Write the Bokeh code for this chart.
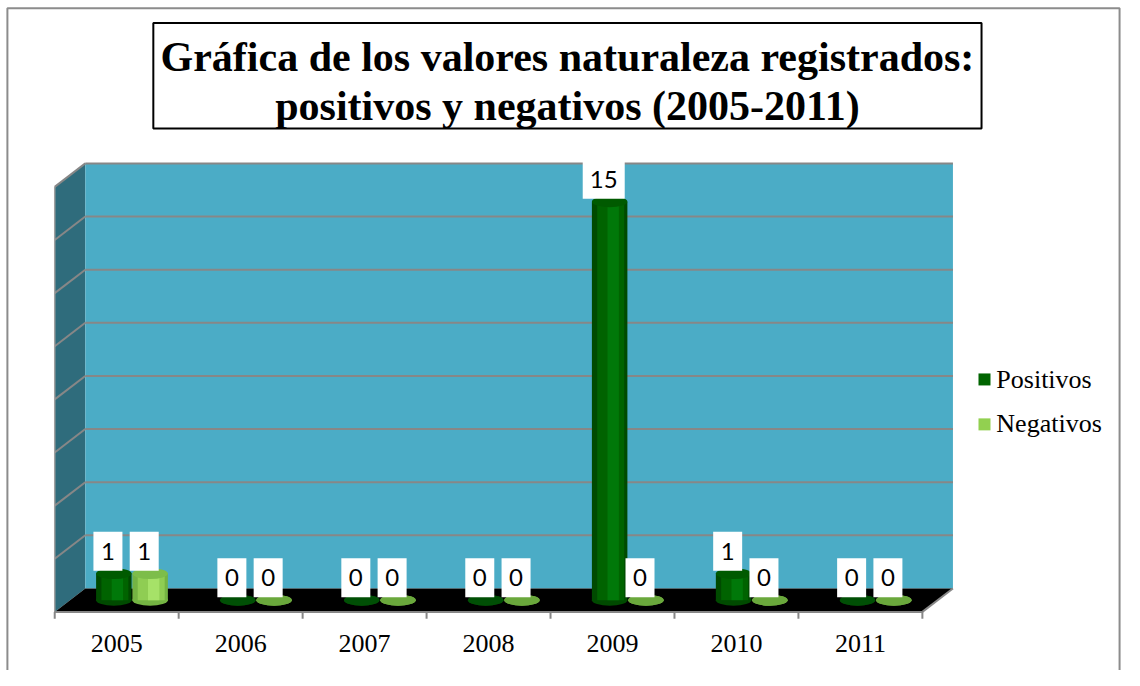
import numpy as np
from bokeh.plotting import figure
from bokeh.models import ColumnDataSource
from bokeh.core.properties import value
from bokeh.embed import file_html
from bokeh.resources import INLINE

# ---------------- data ----------------
years = ["2005", "2006", "2007", "2008", "2009", "2010", "2011"]
positivos = [1, 0, 0, 0, 15, 1, 0]
negativos = [1, 0, 0, 0, 0, 0, 0]
series_names = ["Positivos", "Negativos"]
title_lines = ["Gráfica de los valores naturaleza registrados:",
               "positivos y negativos (2005-2011)"]
y_max = 16
y_step = 2

# ---------------- geometry helpers (reference pixel -> data) ----------------
W, H = 1124, 670
REF_W, REF_H = 1140, 686
X0_IMG, Y0_IMG = 55.0, 626.0     # reference position of data (0, 0)
XPX, YPX = 125.714, 27.2         # reference pixels per data unit


def dx(ix):
    return (ix - X0_IMG) / XPX


def dy(iy):
    return (Y0_IMG - iy) / YPX


p = figure(width=W, height=H,
           x_range=(dx(0), dx(REF_W)), y_range=(dy(REF_H), dy(0)),
           x_axis_type=None, y_axis_type=None, min_border=0,
           toolbar_location=None, output_backend="svg")
p.outline_line_color = None
p.background_fill_color = "white"
p.border_fill_color = "white"
p.title.visible = False

n = len(years)
DX, DY = 31 / XPX, 24 / YPX     # 3-D depth vector
GRID = "#878787"

# walls
p.patch([0, DX, DX, 0], [0, DY, y_max + DY, y_max], fill_color="#2f6c7c", line_color=None)
p.patch([DX, n + DX, n + DX, DX], [DY, DY, y_max + DY, y_max + DY], fill_color="#4bacc6", line_color=None)
levels = np.arange(y_step, y_max + 1, y_step)
p.segment(x0=DX, y0=levels + DY, x1=n + DX, y1=levels + DY, line_color=GRID, line_width=2)
p.segment(x0=0, y0=levels, x1=DX, y1=levels + DY, line_color=GRID, line_width=2)
p.segment(x0=[0], y0=[0], x1=[0], y1=[y_max], line_color="#a0a0a0", line_width=1.5)
# floor
p.patch([0, n, n + DX, DX], [0, 0, DY, DY], fill_color="black", line_color=None)
p.segment(x0=[n], y0=[0], x1=[n + DX], y1=[DY], line_color=GRID, line_width=2)
# category axis line + ticks
p.segment(x0=[0], y0=[0], x1=[n], y1=[0], line_color=GRID, line_width=2)
bounds = np.arange(n + 1)
p.segment(x0=bounds, y0=0, x1=bounds, y1=dy(633), line_color=GRID, line_width=2)

# cylinders
cx = np.arange(n) + 0.5
off = 18.4 / XPX
bw = 36 / XPX
base = DY / 2


def cylinder(xs, vals, edge, mid, hi, top, zero):
    vals = np.array(vals, dtype=float)
    tops = base + vals
    src = ColumnDataSource(dict(x=xs, top=tops,
                                c=[zero if v == 0 else top for v in vals]))
    p.ellipse(x="x", y=base, width=bw, height=11, height_units="screen",
              fill_color=edge, line_color=None, source=src)
    p.vbar(x="x", width=bw, bottom=base, top="top", fill_color=edge, line_color=None, source=src)
    p.vbar(x=xs + 0.03 * bw, width=0.76 * bw, bottom=base, top=tops, fill_color=mid, line_color=None)
    p.vbar(x=xs + 0.1 * bw, width=0.32 * bw, bottom=base, top=tops, fill_color=hi, line_color=None)
    p.ellipse(x="x", y="top", width=bw, height=11, height_units="screen",
              fill_color="c", line_color=None, source=src)
    return tops


pos_x = cx - off + DX / 2
neg_x = cx + off + DX / 2
pos_tops = cylinder(pos_x, positivos, "#004a00", "#006300", "#007809", "#005a00", "#004f05")
neg_tops = cylinder(neg_x, negativos, "#74b443", "#8fcd53", "#a6e268", "#7dbd4a", "#6aa83c")

# data labels
for xs, vals, tops in ((pos_x, positivos, pos_tops), (neg_x, negativos, neg_tops)):
    txt = [str(v) for v in vals]
    src = ColumnDataSource(dict(x=xs - 6 / XPX, y=tops + 23 / YPX, t=txt,
                                w=[16 + 13 * len(t) for t in txt]))
    p.rect(x="x", y="y", width="w", height=39, width_units="screen", height_units="screen",
           fill_color="white", line_color=None, source=src)
    p.text(x="x", y="y", text="t", text_align="center", text_baseline="middle",
           text_font=value("Lato"), text_font_size="24px", text_color="black", source=src)

# category labels
p.text(x=cx, y=dy(658), text=years, text_align="center", text_baseline="middle",
       text_font=value("Liberation Serif"), text_font_size="26px", text_color="black")

# legend
leg_colors = ["#006400", "#92d050"]
p.rect(x=[dx(998)] * 2, y=[dy(388), dy(434)], width=12, height=12,
       width_units="screen", height_units="screen", fill_color=leg_colors, line_color=None)
p.text(x=[dx(1010)] * 2, y=[dy(388), dy(433)], text=series_names,
       text_align="left", text_baseline="middle",
       text_font=value("Liberation Serif"), text_font_size="26px", text_color="black")

# title box
p.quad(left=[dx(155)], right=[dx(995)], top=[dy(23)], bottom=[dy(131)],
       fill_color="white", line_color="black", line_width=2)
p.text(x=[dx(575)] * 2, y=[dy(58), dy(108)], text=title_lines,
       text_align="center", text_baseline="middle",
       text_font=value("Liberation Serif"), text_font_style="bold",
       text_font_size="42px", text_color="black")

# chart border
p.multi_line(xs=[[dx(7), dx(7), dx(1135), dx(1135)]],
             ys=[[dy(720), dy(8), dy(8), dy(720)]], line_color="#8c8c8c", line_width=2)

open("out.html", "w").write(file_html(p, INLINE))
